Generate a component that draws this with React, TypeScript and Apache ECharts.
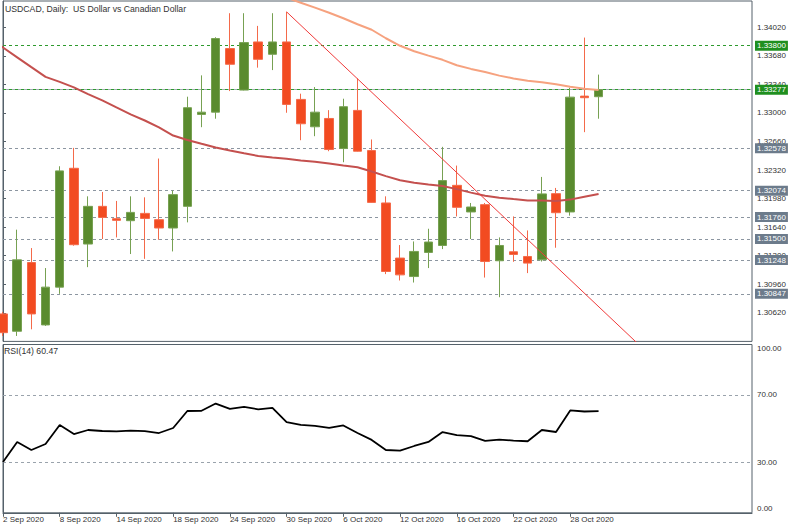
import React, { useEffect, useRef } from 'react';
import * as echarts from 'echarts';

// ---- data ----
const dateLabels = ['2 Sep 2020', '8 Sep 2020', '14 Sep 2020', '18 Sep 2020', '24 Sep 2020', '30 Sep 2020', '6 Oct 2020', '12 Oct 2020', '16 Oct 2020', '22 Oct 2020', '28 Oct 2020'];
const dateLabelBars = [0, 4, 8, 12, 16, 20, 24, 28, 32, 36, 40];

const opens = [1.30607, 1.30401, 1.31219, 1.30476, 1.30926, 1.32341, 1.31439, 1.31888, 1.31741, 1.31717, 1.31804, 1.31729, 1.31630, 1.31888, 1.32982, 1.33009, 1.33766, 1.33272, 1.33845, 1.33698, 1.33845, 1.33161, 1.32835, 1.32934, 1.32576, 1.33030, 1.32552, 1.31928, 1.31272, 1.31052, 1.31339, 1.31422, 1.32138, 1.31821, 1.31908, 1.31240, 1.31347, 1.31291, 1.31251, 1.32039, 1.31821, 1.33200, 1.33193];
const closes = [1.30384, 1.31251, 1.30607, 1.30926, 1.32310, 1.31431, 1.31888, 1.31756, 1.31721, 1.31816, 1.31744, 1.31630, 1.32027, 1.33062, 1.33009, 1.33885, 1.33579, 1.33837, 1.33638, 1.33845, 1.33101, 1.32871, 1.33009, 1.32564, 1.33074, 1.32544, 1.31935, 1.31112, 1.31072, 1.31351, 1.31463, 1.32194, 1.31876, 1.31880, 1.31231, 1.31422, 1.31315, 1.31212, 1.32036, 1.31812, 1.33188, 1.33181, 1.33277];
const lows = [1.30345, 1.30345, 1.30424, 1.30464, 1.30846, 1.31419, 1.31164, 1.31499, 1.31518, 1.31320, 1.31263, 1.31490, 1.31351, 1.31697, 1.32830, 1.32931, 1.33260, 1.33268, 1.33539, 1.33510, 1.33002, 1.32675, 1.32723, 1.32544, 1.32413, 1.32540, 1.31932, 1.31081, 1.31005, 1.30981, 1.31153, 1.31379, 1.31768, 1.31499, 1.31040, 1.30806, 1.31228, 1.31093, 1.31231, 1.31395, 1.31777, 1.32771, 1.32931];
const highs = [1.30631, 1.31610, 1.31391, 1.31153, 1.32365, 1.32584, 1.32007, 1.32059, 1.31952, 1.32007, 1.31995, 1.32457, 1.32075, 1.33193, 1.33447, 1.33901, 1.34187, 1.34187, 1.34036, 1.34187, 1.34203, 1.33229, 1.33308, 1.33033, 1.33169, 1.33411, 1.32684, 1.32007, 1.31427, 1.31470, 1.31621, 1.32596, 1.32373, 1.31928, 1.31928, 1.31518, 1.31768, 1.31601, 1.32238, 1.32107, 1.33300, 1.33897, 1.33456];

// moving averages (first value belongs to bar index given by *Start)
const maSlowStart = -1;
const maSlow = [1.33895, 1.33779, 1.33662, 1.33545, 1.33429, 1.33370, 1.33304, 1.33224, 1.33149, 1.33065, 1.32982, 1.32910, 1.32827, 1.32731, 1.32678, 1.32632, 1.32588, 1.32552, 1.32519, 1.32487, 1.32469, 1.32453, 1.32435, 1.32419, 1.32397, 1.32373, 1.32353, 1.32302, 1.32248, 1.32198, 1.32170, 1.32147, 1.32129, 1.32093, 1.32051, 1.32015, 1.31991, 1.31974, 1.31958, 1.31956, 1.31952, 1.31968, 1.32003, 1.32036];
const maLongStart = 18;
const maLong = [1.34491, 1.34432, 1.34372, 1.34312, 1.34253, 1.34192, 1.34127, 1.34056, 1.33990, 1.33889, 1.33799, 1.33734, 1.33682, 1.33632, 1.33567, 1.33524, 1.33487, 1.33444, 1.33411, 1.33384, 1.33364, 1.33340, 1.33312, 1.33289, 1.33272];

const trendline = [[20, 1.34203], [45, 1.30216]];

const rsi = [30.2, 42.1, 37.3, 40.9, 52.2, 46.8, 49.2, 48.6, 48.4, 48.8, 48.5, 47.4, 50.4, 60.5, 60.6, 64.9, 61.7, 62.9, 61.5, 62.3, 53.9, 52.2, 51.6, 50.5, 51.9, 47.4, 43.3, 37.3, 37.0, 39.7, 42.1, 48.0, 46.2, 45.6, 42.7, 43.5, 42.9, 42.5, 49.2, 48.0, 60.8, 60.2, 60.47];
const rsiLevels = [70, 30];
const rsiTicks = [0, 30, 70, 100];

const priceTicks = [1.3062, 1.3096, 1.313, 1.3164, 1.3198, 1.3232, 1.3266, 1.33, 1.3334, 1.3368, 1.3402];
const greenLevels = [1.338, 1.33277];
const grayLevels = [1.32578, 1.32074, 1.3176, 1.315, 1.31248, 1.30847];
const bidPrice = 1.33277;

const FONT = "'Liberation Sans', Arial, sans-serif";
const AXIS_COLOR = '#55616a';
const TEXT_COLOR = '#333333';

export default function App() {
  const ref = useRef<HTMLDivElement>(null);
  useEffect(() => {
    if (!ref.current) return;
    const chart = echarts.init(ref.current, undefined, { renderer: 'svg' });
    const candleData = opens.map((o, i) => [i, o, closes[i], lows[i], highs[i]]);
    const levelLabel = (bg: string) => ({
      show: true,
      position: 'end',
      distance: 3,
      formatter: (p: any) => Number(p.value).toFixed(5),
      color: '#ffffff',
      backgroundColor: bg,
      padding: [1, 2, 0, 2],
      lineHeight: 9,
      fontSize: 8,
      fontFamily: FONT,
    });
    const markData: any[] = [];
    markData.push({ yAxis: bidPrice, lineStyle: { color: '#a3acb4', type: 'solid', width: 1 }, label: { show: false } });
    grayLevels.forEach((v) => markData.push({ yAxis: v, lineStyle: { color: '#8c96a1', type: [3, 3], width: 1 }, label: levelLabel('#6c7b8b') }));
    greenLevels.forEach((v) => markData.push({ yAxis: v, lineStyle: { color: '#2e9a2e', type: [3, 3], width: 1 }, label: levelLabel('#1f8f1f') }));

    const option: any = {
      animation: false,
      backgroundColor: '#ffffff',
      grid: [
        { left: 3, top: 1, width: 749, height: 340.4, show: true, borderColor: AXIS_COLOR, borderWidth: 1, backgroundColor: 'transparent' },
        { left: 3, top: 344.5, width: 749, height: 168.3, show: true, borderColor: AXIS_COLOR, borderWidth: 1, backgroundColor: 'transparent' },
      ],
      xAxis: [
        { gridIndex: 0, type: 'value', min: 0, max: 52.82, show: false },
        {
          gridIndex: 1, type: 'value', min: 0, max: 52.82, position: 'bottom',
          splitLine: { show: false },
          axisLine: { show: true, lineStyle: { color: AXIS_COLOR } },
          axisTick: { show: true, length: 4, customValues: dateLabelBars, lineStyle: { color: AXIS_COLOR } },
          axisLabel: {
            customValues: dateLabelBars,
            formatter: (v: number) => dateLabels[dateLabelBars.indexOf(Math.round(v))] || '',
            align: 'left', margin: 3, fontSize: 8, fontFamily: FONT, color: TEXT_COLOR,
          },
        },
      ],
      yAxis: [
        {
          gridIndex: 0, type: 'value', position: 'right', min: 1.3028, max: 1.343324, scale: true,
          splitLine: { show: false },
          axisLine: { show: true, lineStyle: { color: AXIS_COLOR } },
          axisTick: { show: true, length: 3, customValues: priceTicks, lineStyle: { color: AXIS_COLOR } },
          axisLabel: { customValues: priceTicks, formatter: (v: number) => v.toFixed(5), margin: 5, fontSize: 8, fontFamily: FONT, color: TEXT_COLOR },
        },
        {
          gridIndex: 1, type: 'value', position: 'right', min: 0, max: 100,
          splitLine: { show: false },
          axisLine: { show: true, lineStyle: { color: AXIS_COLOR } },
          axisTick: { show: true, length: 3, customValues: rsiTicks, lineStyle: { color: AXIS_COLOR } },
          axisLabel: {
            customValues: rsiTicks, formatter: (v: number) => v.toFixed(2), margin: 5, fontSize: 8, fontFamily: FONT, color: TEXT_COLOR,
            verticalAlignMinLabel: 'bottom', verticalAlignMaxLabel: 'top',
          },
        },
      ],
      series: [
        {
          type: 'candlestick', xAxisIndex: 0, yAxisIndex: 0, data: candleData, barWidth: 9, clip: true,
          itemStyle: { color: '#5a8b2e', color0: '#f24b21', borderColor: '#77a152', borderColor0: '#f46a4a', borderWidth: 1 },
          markLine: { silent: true, z: 1, precision: 5, symbol: ['none', 'none'], animation: false, data: markData },
        },
        {
          type: 'line', xAxisIndex: 0, yAxisIndex: 0, showSymbol: false, clip: true, z: 3,
          data: maSlow.map((v, i) => [i + maSlowStart, v]),
          lineStyle: { color: '#c4504e', width: 2 },
        },
        {
          type: 'line', xAxisIndex: 0, yAxisIndex: 0, showSymbol: false, clip: true, z: 3,
          data: maLong.map((v, i) => [i + maLongStart, v]),
          lineStyle: { color: '#f6a27f', width: 2 },
        },
        {
          type: 'line', xAxisIndex: 0, yAxisIndex: 0, showSymbol: false, clip: true, z: 4,
          data: trendline,
          lineStyle: { color: '#f03a3a', width: 1 },
        },
        {
          type: 'line', xAxisIndex: 1, yAxisIndex: 1, showSymbol: false, clip: true, z: 3,
          data: rsi.map((v, i) => [i, v]),
          lineStyle: { color: '#000000', width: 1.8 },
          markLine: {
            silent: true, z: 1, symbol: ['none', 'none'], animation: false,
            label: { show: false },
            lineStyle: { color: '#9aa3ac', type: [3, 3], width: 1 },
            data: rsiLevels.map((v) => ({ yAxis: v })),
          },
        },
      ],
      graphic: [
        { type: 'text', left: 5, top: 4, style: { text: 'USDCAD, Daily:  US Dollar vs Canadian Dollar', fontSize: 8.7, fontFamily: FONT, fill: TEXT_COLOR } },
        { type: 'text', left: 4, top: 346, style: { text: 'RSI(14) 60.47', fontSize: 8.7, fontFamily: FONT, fill: TEXT_COLOR } },
      ],
    };
    chart.setOption(option);
    return () => chart.dispose();
  }, []);
  return <div ref={ref} style={{ position: 'absolute', left: 0, top: 0, width: 800, height: 532, background: '#fff' }} />;
}
